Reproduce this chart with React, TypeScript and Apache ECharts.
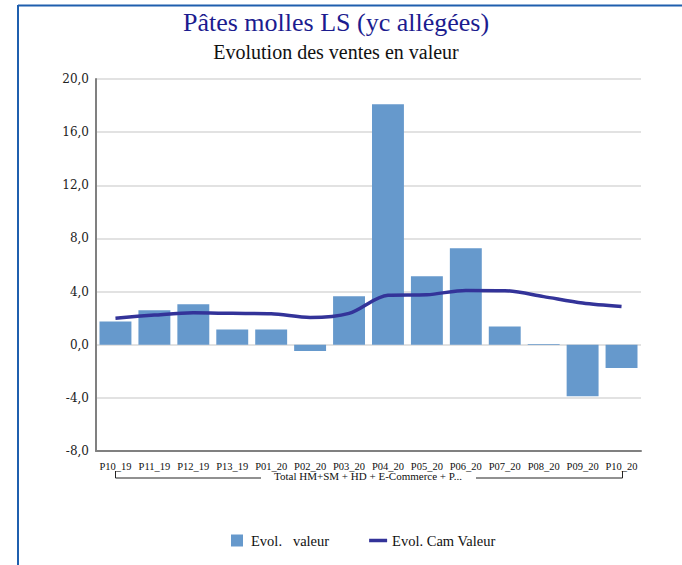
import React, { useEffect, useRef } from "react";
import * as echarts from "echarts";

const categories = ["P10_19", "P11_19", "P12_19", "P13_19", "P01_20", "P02_20", "P03_20", "P04_20", "P05_20", "P06_20", "P07_20", "P08_20", "P09_20", "P10_20"];
const evolValeur = [1.75, 2.6, 3.05, 1.15, 1.15, -0.48, 3.64, 18.1, 5.15, 7.26, 1.38, 0.05, -3.87, -1.76];
const evolCamValeur = [2.0, 2.23, 2.4, 2.36, 2.33, 2.05, 2.36, 3.72, 3.76, 4.09, 4.07, 3.62, 3.14, 2.87];
const yTicks = { min: -8, max: 20, interval: 4 };
const titleText = "Pâtes molles LS (yc allégées)";
const subtitleText = "Evolution des ventes en valeur";
const groupLabel = "Total HM+SM + HD + E-Commerce + P...";
const seriesNames = ["Evol.   valeur", "Evol. Cam Valeur"];

export default function App() {
  const ref = useRef<HTMLDivElement>(null);
  useEffect(() => {
    if (!ref.current) return;
    const chart = echarts.init(ref.current, null, { renderer: "svg" });
    const serif = "Liberation Serif";
    const bracketY = 478;
    chart.setOption({
      animation: false,
      backgroundColor: "#ffffff",
      title: [
        {
          text: titleText,
          left: 331,
          top: 4,
          textAlign: "center",
          textStyle: { fontFamily: serif, fontSize: 26, fontWeight: "normal", color: "#1c1c8f" },
        },
        {
          text: subtitleText,
          left: 331,
          top: 37,
          textAlign: "center",
          textStyle: { fontFamily: serif, fontSize: 20, fontWeight: "normal", color: "#111111" },
        },
      ],
      grid: { left: 96, right: 41, top: 79, bottom: 114, containLabel: false },
      legend: {
        top: 528,
        left: 226,
        itemWidth: 18,
        itemHeight: 12,
        itemGap: 40,
        textStyle: { fontFamily: serif, fontSize: 14.5, color: "#111111" },
        data: [
          { name: seriesNames[0], icon: "path://M0,0L10,0L10,10L0,10Z" },
          { name: seriesNames[1], icon: "path://M0,0L18,0L18,3.5L0,3.5Z", itemStyle: { color: "#333399" } },
        ],
      },
      xAxis: {
        type: "category",
        data: categories,
        axisLine: { onZero: false, lineStyle: { color: "#808080", width: 2 } },
        axisTick: { show: false },
        axisLabel: { fontFamily: serif, fontSize: 10.5, lineHeight: 10, color: "#111111", margin: 10, interval: 0 },
      },
      yAxis: {
        type: "value",
        min: yTicks.min,
        max: yTicks.max,
        interval: yTicks.interval,
        axisLine: { show: true, lineStyle: { color: "#808080", width: 2 } },
        axisTick: { show: false },
        splitLine: { lineStyle: { color: "#d9d9d9", width: 1.5 } },
        axisLabel: {
          fontFamily: "DejaVu Serif",
          fontSize: 12,
          color: "#222222",
          margin: 7,
          formatter: (v: number) => v.toFixed(1).replace(".", ","),
        },
      },
      series: [
        {
          name: seriesNames[0],
          type: "bar",
          data: evolValeur,
          barCategoryGap: "18%",
          itemStyle: { color: "#6699cc" },
        },
        {
          name: seriesNames[1],
          type: "line",
          data: evolCamValeur,
          smooth: 0.3,
          symbol: "none",
          lineStyle: { color: "#333399", width: 3.5 },
          itemStyle: { color: "#333399" },
        },
      ],
      graphic: [
        { type: "line", shape: { x1: 18, y1: 5.5, x2: 682, y2: 5.5 }, style: { stroke: "#1f5fae", lineWidth: 2 } },
        { type: "line", shape: { x1: 18, y1: 5, x2: 18, y2: 565 }, style: { stroke: "#1f5fae", lineWidth: 2 } },
        {
          type: "polyline",
          shape: { points: [[115.5, bracketY - 7], [115.5, bracketY], [261, bracketY]] },
          style: { stroke: "#222222", lineWidth: 1, fill: null },
        },
        {
          type: "polyline",
          shape: { points: [[476, bracketY], [622.5, bracketY], [622.5, bracketY - 7]] },
          style: { stroke: "#222222", lineWidth: 1, fill: null },
        },
        {
          type: "text",
          x: 368,
          y: bracketY - 2,
          style: {
            text: groupLabel,
            fontFamily: serif,
            fontSize: 11,
            lineHeight: 9,
            fill: "#111111",
            align: "center",
            verticalAlign: "middle",
          },
        },
      ],
    });
    return () => chart.dispose();
  }, []);
  return <div ref={ref} style={{ position: "fixed", left: 0, top: 0, width: 682, height: 565 }} />;
}
